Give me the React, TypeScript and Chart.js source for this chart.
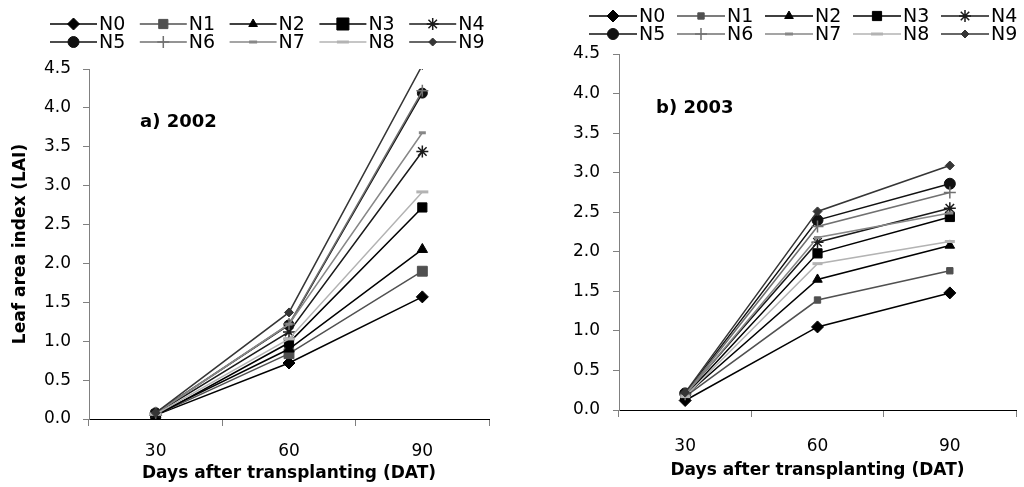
import React, { useEffect, useRef } from 'react';
import { Chart, registerables } from 'chart.js';
import { drawPoint } from 'chart.js/helpers';

Chart.register(...registerables);

// ---------- data ----------
const categories = ['30', '60', '90'];
const seriesNames = ['N0', 'N1', 'N2', 'N3', 'N4', 'N5', 'N6', 'N7', 'N8', 'N9'];

// 2002 leaf area index
const lai2002N0 = [0.05, 0.72, 1.57];
const lai2002N1 = [0.05, 0.84, 1.9];
const lai2002N2 = [0.06, 0.9, 2.18];
const lai2002N3 = [0.04, 0.98, 2.72];
const lai2002N4 = [0.07, 1.12, 3.44];
const lai2002N5 = [0.08, 1.21, 4.19];
const lai2002N6 = [0.08, 1.22, 4.22];
const lai2002N7 = [0.07, 1.22, 3.68];
const lai2002N8 = [0.06, 1.03, 2.92];
const lai2002N9 = [0.08, 1.37, 4.55];

// 2003 leaf area index
const lai2003N0 = [0.12, 1.05, 1.48];
const lai2003N1 = [0.17, 1.39, 1.76];
const lai2003N2 = [0.18, 1.65, 2.08];
const lai2003N3 = [0.18, 1.98, 2.44];
const lai2003N4 = [0.2, 2.12, 2.55];
const lai2003N5 = [0.21, 2.4, 2.86];
const lai2003N6 = [0.2, 2.32, 2.75];
const lai2003N7 = [0.19, 2.18, 2.49];
const lai2003N8 = [0.17, 1.85, 2.13];
const lai2003N9 = [0.22, 2.51, 3.09];

const series2002 = [lai2002N0, lai2002N1, lai2002N2, lai2002N3, lai2002N4, lai2002N5, lai2002N6, lai2002N7, lai2002N8, lai2002N9];
const series2003 = [lai2003N0, lai2003N1, lai2003N2, lai2003N3, lai2003N4, lai2003N5, lai2003N6, lai2003N7, lai2003N8, lai2003N9];

const yTicksMin = 0;
const yTicksMax = 4.5;
const yTickStep = 0.5;

// ---------- styles ----------
const lineColors = ['#000000', '#505050', '#000000', '#000000', '#1a1a1a', '#111111', '#707070', '#878787', '#b3b3b3', '#353535'];
const markerStyles = ['rectRot', 'rect', 'triangle', 'rect', 'star', 'circle', 'cross', 'line', 'line', 'rectRot'];
const markerBorderWidths = [1, 1, 1, 1, 1.5, 1, 1.5, 3, 3, 1];

const FONT = '"DejaVu Sans"';

type Panel = {
  data: number[][];
  radii: number[];
  legendRadii: number[];
  legendX: number;
  legendPitch: number;
  legendRows: number[];
  lineLen: number;
  label: string;
  labelX: number;
  labelY: number;
  padTop: number;
  padRight: number;
  yWidth: number;
  xHeight: number;
  xTickPad: number;
  yTickPad: number;
  xTitlePadBottom: number;
  yTitle: string | null;
};

const leftPanel: Panel = {
  data: series2002,
  radii: [6, 7, 6, 6.5, 6, 5, 6, 3.5, 6, 4.5],
  legendRadii: [6, 6.5, 5, 8.5, 6, 5.5, 6, 4, 6, 4],
  legendX: 50,
  legendPitch: 89.8,
  legendRows: [24, 42],
  lineLen: 47,
  label: 'a) 2002',
  labelX: 140,
  labelY: 122,
  padTop: 69,
  padRight: 23,
  yWidth: 89,
  xHeight: 68,
  xTickPad: 15,
  yTickPad: 12,
  xTitlePadBottom: 3,
  yTitle: 'Leaf area index (LAI)',
};

const rightPanel: Panel = {
  data: series2003,
  radii: [6, 4.5, 5.5, 6.5, 6, 5.5, 6, 3.5, 5, 4.5],
  legendRadii: [6, 4.5, 5, 6.5, 6, 5.5, 6, 4, 6, 4],
  legendX: 77,
  legendPitch: 88,
  legendRows: [16, 34],
  lineLen: 48,
  label: 'b) 2003',
  labelX: 144,
  labelY: 108,
  padTop: 54,
  padRight: 3,
  yWidth: 107,
  xHeight: 77,
  xTickPad: 19,
  yTickPad: 13,
  xTitlePadBottom: 6,
  yTitle: null,
};

function makeOverlay(p: Panel) {
  return {
    id: 'panelOverlay',
    afterDraw(chart: any) {
      const ctx = chart.ctx as CanvasRenderingContext2D;
      ctx.save();
      chart.data.datasets.forEach((ds: any, i: number) => {
        const row = Math.floor(i / 5);
        const col = i % 5;
        const x0 = p.legendX + col * p.legendPitch;
        const y = p.legendRows[row];
        ctx.strokeStyle = ds.borderColor;
        ctx.lineWidth = 1.5;
        ctx.beginPath();
        ctx.moveTo(x0, y);
        ctx.lineTo(x0 + p.lineLen, y);
        ctx.stroke();
        ctx.fillStyle = ds.pointBackgroundColor;
        ctx.strokeStyle = ds.pointBorderColor;
        ctx.lineWidth = ds.pointBorderWidth;
        drawPoint(ctx, { pointStyle: ds.pointStyle, radius: p.legendRadii[i], borderWidth: ds.pointBorderWidth, rotation: 0 } as any, x0 + p.lineLen / 2, y);
        ctx.fillStyle = '#000';
        ctx.font = `19px ${FONT}`;
        ctx.textBaseline = 'middle';
        ctx.textAlign = 'left';
        ctx.fillText(ds.label, x0 + p.lineLen + 2, y + 1);
      });
      ctx.fillStyle = '#000';
      ctx.font = `bold 18px ${FONT}`;
      ctx.textBaseline = 'middle';
      ctx.textAlign = 'left';
      ctx.fillText(p.label, p.labelX, p.labelY);
      ctx.restore();
    },
  };
}

function makeConfig(p: Panel): any {
  const n = seriesNames.length;
  const datasets = seriesNames.map((name, i) => ({
    label: name,
    data: p.data[i],
    borderColor: lineColors[i],
    backgroundColor: lineColors[i],
    borderWidth: 1.5,
    pointStyle: markerStyles[i],
    pointRadius: p.radii[i],
    pointHoverRadius: p.radii[i],
    pointBackgroundColor: lineColors[i],
    pointBorderColor: lineColors[i],
    pointBorderWidth: markerBorderWidths[i],
    tension: 0,
    fill: false,
    clip: 0,
    order: n - 1 - i,
  }));
  return {
    type: 'line',
    data: { labels: categories, datasets },
    options: {
      responsive: false,
      animation: false,
      events: [],
      layout: { padding: { top: p.padTop, right: p.padRight, left: 0, bottom: 0 } },
      plugins: { legend: { display: false }, tooltip: { enabled: false }, title: { display: false } },
      scales: {
        x: {
          type: 'category',
          offset: true,
          grid: { offset: true, drawOnChartArea: false, drawTicks: true, tickLength: 7, color: '#808080', lineWidth: 1 },
          border: { display: true, color: '#000000', width: 1 },
          ticks: { color: '#000', font: { family: FONT, size: 17 }, padding: p.xTickPad, maxRotation: 0, autoSkip: false },
          title: {
            display: true,
            text: 'Days after transplanting (DAT)',
            color: '#000',
            font: { family: FONT, size: 17, weight: 'bold' },
            padding: { top: 0, bottom: p.xTitlePadBottom },
          },
          afterFit: (s: any) => {
            s.height = p.xHeight;
          },
        },
        y: {
          min: yTicksMin,
          max: yTicksMax,
          ticks: {
            stepSize: yTickStep,
            color: '#000',
            font: { family: FONT, size: 17 },
            padding: p.yTickPad,
            callback: (v: any) => Number(v).toFixed(1),
          },
          grid: { drawOnChartArea: false, drawTicks: true, tickLength: 6, color: '#808080', lineWidth: 1 },
          border: { display: true, color: '#808080', width: 1 },
          title: p.yTitle
            ? {
                display: true,
                text: p.yTitle,
                color: '#000',
                font: { family: FONT, size: 17, weight: 'bold' },
                padding: { top: 10, bottom: 0 },
              }
            : { display: false },
          afterFit: (s: any) => {
            s.width = p.yWidth;
          },
        },
      },
    },
    plugins: [makeOverlay(p)],
  };
}

function PanelChart({ panel, left }: { panel: Panel; left: number }) {
  const ref = useRef<HTMLCanvasElement | null>(null);
  useEffect(() => {
    if (!ref.current) return;
    const chart = new Chart(ref.current, makeConfig(panel));
    return () => chart.destroy();
  }, [panel]);
  return (
    <canvas
      ref={ref}
      width={512}
      height={487}
      style={{ position: 'absolute', left, top: 0, width: 512, height: 487 }}
    />
  );
}

export default function App() {
  return (
    <div style={{ position: 'absolute', left: 0, top: 0, width: 1024, height: 487, background: '#fff', overflow: 'hidden' }}>
      <PanelChart panel={leftPanel} left={0} />
      <PanelChart panel={rightPanel} left={512} />
    </div>
  );
}
